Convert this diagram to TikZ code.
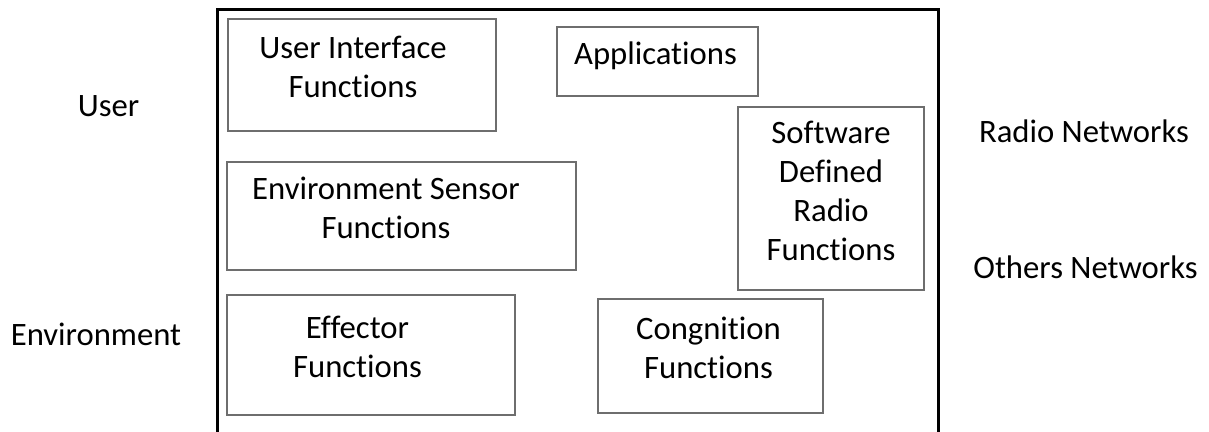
\documentclass[tikz,border=0pt]{standalone}
\usepackage{fontspec}
\setmainfont{Carlito}[Ligatures={NoCommon,NoRequired,NoContextual}]
\usetikzlibrary{positioning}
\definecolor{Frame}{HTML}{000000}
\definecolor{Edge}{HTML}{6E6E6E}

\begin{document}
\begin{tikzpicture}[x=0.2mm,y=-0.2mm,
    box/.style={draw=Edge,line width=0.25mm,inner sep=0pt},
    inbox/.style={inner sep=0pt,align=center,text depth=3.2mm,
      font=\fontsize{18.6pt}{22.2pt}\selectfont},
    side/.style={inner sep=0pt,font=\fontsize{18.6pt}{22.2pt}\selectfont}]
  \useasboundingbox (0,0) rectangle (1209,432);
  \clip (0,0) rectangle (1209,432);
  % system frame, runs past the bottom edge
  \node[draw=Frame,line width=0.6mm,inner sep=0pt,minimum width=144.2mm,
    minimum height=88mm] (sys) at (578,229.5) {};
  \node[box,minimum width=53.6mm,minimum height=22.4mm,
    label={[inbox,name=ui-t,xshift=-1.8mm]center:User Interface\\Functions}] (ui) at (362,75) {};
  \node[box,minimum width=40.2mm,minimum height=13.8mm,
    label={[inbox,name=app-t,xshift=-0.4mm]center:Applications}] (app) at (657.5,61.5) {};
  \node[box,minimum width=37.2mm,minimum height=36.6mm,
    label={[inbox,name=sdr-t]center:Software\\Defined\\Radio\\Functions}] (sdr) at (831,198.5) {};
  \node[box,minimum width=69.8mm,minimum height=21.6mm,
    label={[inbox,name=env-t,xshift=-3.1mm]center:Environment Sensor\\Functions}] (env) at (401.5,216) {};
  \node[box,minimum width=57.6mm,minimum height=24mm,
    label={[inbox,name=eff-t,xshift=-2.7mm]center:Effector\\Functions}] (eff) at (371,355) {};
  \node[box,minimum width=45mm,minimum height=22.8mm,
    label={[inbox,name=cog-t,xshift=-0.4mm]center:Congnition\\Functions}] (cog) at (710.5,356) {};
  % outside actors
  \node[side] (user) at (108.5,106.5) {User};
  \node[side] (envi) at (96,334) {Environment};
  \node[side] (radio) at (1084,131) {Radio Networks};
  \node[side] (other) at (1085.5,267) {Others Networks};
\end{tikzpicture}
\end{document}
